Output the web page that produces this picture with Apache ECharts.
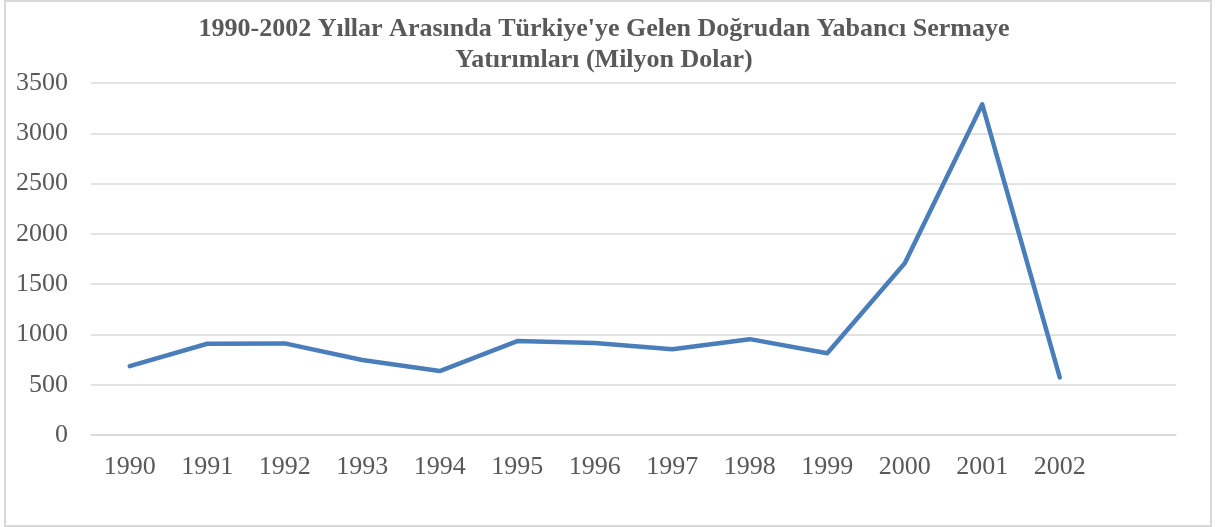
<!DOCTYPE html>
<html>
<head>
<meta charset="utf-8">
<script src="https://cdn.jsdelivr.net/npm/echarts@6/dist/echarts.min.js"></script>
<style>
  html, body { margin: 0; padding: 0; background: #fff; }
  #chart { width: 1215px; height: 527px; }
</style>
</head>
<body>
<div id="chart"></div>
<script>
// yıllar (son kategori boş, grafikteki sağ boşluk için)
const years = ['1990', '1991', '1992', '1993', '1994', '1995', '1996', '1997', '1998', '1999', '2000', '2001', '2002', '']
// milyon dolar
const investments = [684, 907, 911, 746, 636, 934, 914, 852, 953, 813, 1707, 3288, 572]
const yTicks = [0, 500, 1000, 1500, 2000, 2500, 3000, 3500]

const serif = '"Liberation Serif", "Times New Roman", serif'
const textGrey = '#595959'
const gridGrey = '#d9d9d9'

const chart = echarts.init(document.getElementById('chart'))

const option = {
  animation: false,
  title: {
    text: "1990-2002 Yıllar Arasında Türkiye'ye Gelen Doğrudan Yabancı Sermaye\nYatırımları (Milyon Dolar)",
    left: 599,
    top: 9,
    textAlign: 'center',
    textStyle: {
      fontFamily: serif,
      fontSize: 26,
      fontWeight: 'bold',
      color: textGrey,
      lineHeight: 31,
    },
  },
  graphic: [
    {
      type: 'rect',
      shape: { x: 5, y: 1, width: 1206, height: 525 },
      style: { fill: 'none', stroke: gridGrey, lineWidth: 2 },
      silent: true,
    },
  ],
  grid: {
    left: 91,
    right: 39,
    top: 83,
    bottom: 92,
  },
  xAxis: {
    type: 'category',
    data: years,
    boundaryGap: true,
    axisLine: { show: true, lineStyle: { color: gridGrey, width: 1.5 } },
    axisTick: { show: false },
    axisLabel: {
      color: textGrey,
      fontFamily: serif,
      fontSize: 26,
      margin: 19,
    },
  },
  yAxis: {
    type: 'value',
    min: yTicks[0],
    max: yTicks[yTicks.length - 1],
    interval: yTicks[1] - yTicks[0],
    axisLine: { show: false },
    axisTick: { show: false },
    axisLabel: {
      color: textGrey,
      fontFamily: serif,
      fontSize: 26,
      margin: 23,
      formatter: (v) => String(v),
    },
    splitLine: {
      lineStyle: { color: gridGrey, width: 1.5 },
    },
  },
  series: [
    {
      type: 'line',
      data: investments,
      symbol: 'none',
      lineStyle: {
        width: 4.5,
        color: '#4a7ebb',
        cap: 'round',
        join: 'round',
      },
    },
  ],
}

chart.setOption(option)
</script>
</body>
</html>
